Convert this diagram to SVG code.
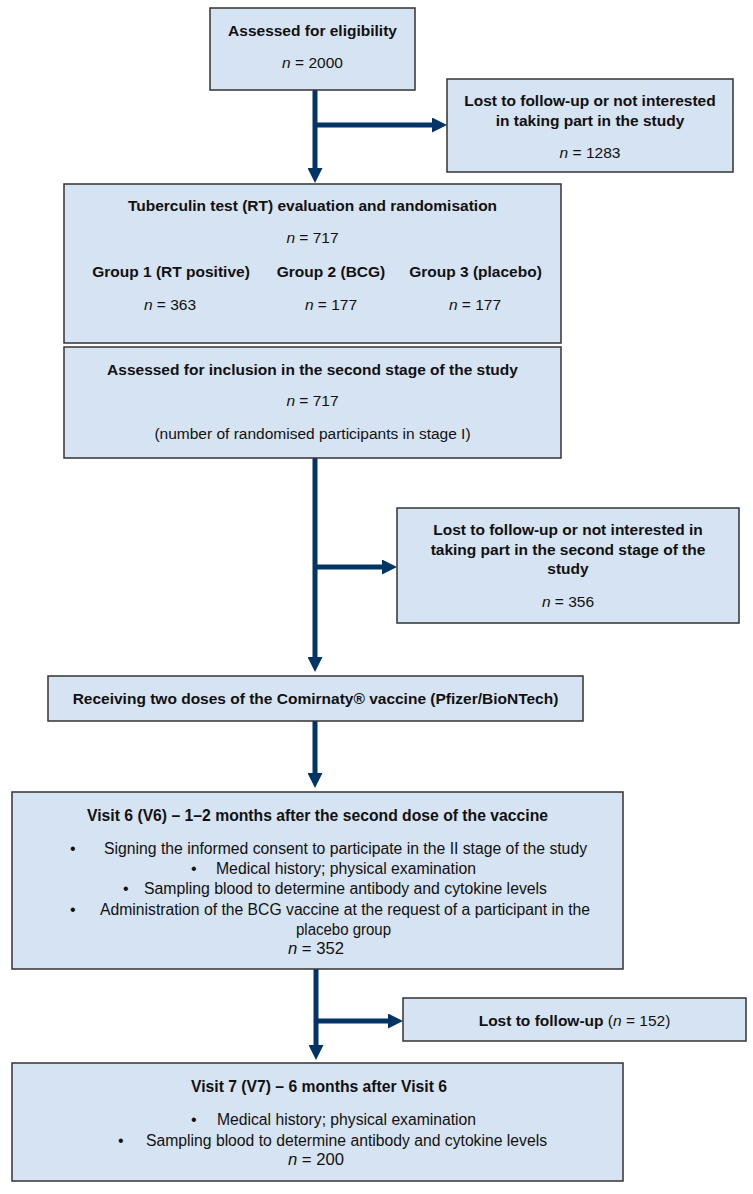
<svg xmlns="http://www.w3.org/2000/svg" width="753" height="1194" viewBox="0 0 753 1194">
<style>
.box{fill:#d6e3f2;stroke:#333;stroke-width:1.5}
text{font-family:"Liberation Sans",Arial,sans-serif;font-size:15.5px;fill:#111;text-anchor:middle}
.b{font-weight:bold}
.i{font-style:italic}
.nar{font-size:16px;text-anchor:start}
.con{stroke:#033466;stroke-width:5;fill:none}
</style>
<defs>
<marker id="ah" markerUnits="userSpaceOnUse" viewBox="0 0 15 15" refX="3" refY="7.5" markerWidth="15" markerHeight="15" orient="auto">
<path d="M0,0 L15,7.5 L0,15 Z" fill="#033466"/>
</marker>
</defs>
<rect width="753" height="1194" fill="#fff"/>
<g id="connectors">
<path class="con" d="M315,90 V171" marker-end="url(#ah)"/>
<path class="con" d="M315,125 H435" marker-end="url(#ah)"/>
<path class="con" d="M315,458 V660" marker-end="url(#ah)"/>
<path class="con" d="M315,567 H385" marker-end="url(#ah)"/>
<path class="con" d="M315,721 V776" marker-end="url(#ah)"/>
<path class="con" d="M316,969 V1048" marker-end="url(#ah)"/>
<path class="con" d="M316,1021 H391" marker-end="url(#ah)"/>
</g>
<g id="eligibility">
<rect class="box" x="210" y="8" width="205" height="82"/>
<text class="b" x="312.5" y="35.5">Assessed for eligibility</text>
<text x="312.5" y="67.5"><tspan class="i">n</tspan> = 2000</text>
</g>
<g id="lost1">
<rect class="box" x="447" y="79" width="286" height="93"/>
<text class="b" x="590" y="105.5">Lost to follow-up or not interested</text>
<text class="b" x="590" y="125.5">in taking part in the study</text>
<text x="590" y="157.5"><tspan class="i">n</tspan> = 1283</text>
</g>
<g id="randomisation">
<rect class="box" x="64" y="184" width="497" height="159"/>
<text class="b" x="312.5" y="210.5">Tuberculin test (RT) evaluation and randomisation</text>
<text x="312.5" y="242.5"><tspan class="i">n</tspan> = 717</text>
<text class="b" x="171" y="276.5">Group 1 (RT positive)</text>
<text class="b" x="331" y="276.5">Group 2 (BCG)</text>
<text class="b" x="475.5" y="276.5">Group 3 (placebo)</text>
<text x="170" y="309.5"><tspan class="i">n</tspan> = 363</text>
<text x="331" y="309.5"><tspan class="i">n</tspan> = 177</text>
<text x="475" y="309.5"><tspan class="i">n</tspan> = 177</text>
</g>
<g id="stage2">
<rect class="box" x="64" y="347" width="497" height="111"/>
<text class="b" x="312.5" y="374.5">Assessed for inclusion in the second stage of the study</text>
<text x="312.5" y="405.5"><tspan class="i">n</tspan> = 717</text>
<text x="312.5" y="438.5">(number of randomised participants in stage I)</text>
</g>
<g id="lost2">
<rect class="box" x="397" y="508" width="342" height="115"/>
<text class="b" x="568" y="534.5">Lost to follow-up or not interested in</text>
<text class="b" x="568" y="554.5">taking part in the second stage of the</text>
<text class="b" x="568" y="573.5">study</text>
<text x="568" y="606.5"><tspan class="i">n</tspan> = 356</text>
</g>
<g id="vaccine">
<rect class="box" x="48" y="676" width="535" height="45"/>
<text class="b" x="315.5" y="703.5">Receiving two doses of the Comirnaty® vaccine (Pfizer/BioNTech)</text>
</g>
<g id="visit6">
<rect class="box" x="12" y="792" width="611" height="177"/>
<text class="b nar" x="87" y="820.5" textLength="461" lengthAdjust="spacingAndGlyphs">Visit 6 (V6) – 1–2 months after the second dose of the vaccine</text>
<text class="nar" x="70" y="853.5">•</text>
<text class="nar" x="104" y="853.5" textLength="483" lengthAdjust="spacingAndGlyphs">Signing the informed consent to participate in the II stage of the study</text>
<text class="nar" x="191" y="873.5">•</text>
<text class="nar" x="216" y="873.5" textLength="260" lengthAdjust="spacingAndGlyphs">Medical history; physical examination</text>
<text class="nar" x="123" y="893.5">•</text>
<text class="nar" x="144" y="893.5" textLength="403" lengthAdjust="spacingAndGlyphs">Sampling blood to determine antibody and cytokine levels</text>
<text class="nar" x="70" y="914.5">•</text>
<text class="nar" x="100" y="914.5" textLength="490" lengthAdjust="spacingAndGlyphs">Administration of the BCG vaccine at the request of a participant in the</text>
<text class="nar" x="296" y="934.5" textLength="95" lengthAdjust="spacingAndGlyphs">placebo group</text>
<text class="nar" x="288" y="953.5" textLength="56" lengthAdjust="spacingAndGlyphs"><tspan class="i">n</tspan> = 352</text>
</g>
<g id="lost3">
<rect class="box" x="403" y="998" width="343" height="43"/>
<text x="574.5" y="1025.5"><tspan class="b">Lost to follow-up</tspan> (<tspan class="i">n</tspan> = 152)</text>
</g>
<g id="visit7">
<rect class="box" x="12" y="1063" width="611" height="118"/>
<text class="b nar" x="191" y="1091.5" textLength="256" lengthAdjust="spacingAndGlyphs">Visit 7 (V7) – 6 months after Visit 6</text>
<text class="nar" x="191" y="1124.5">•</text>
<text class="nar" x="217" y="1124.5" textLength="259" lengthAdjust="spacingAndGlyphs">Medical history; physical examination</text>
<text class="nar" x="118" y="1145.5">•</text>
<text class="nar" x="146" y="1145.5" textLength="401" lengthAdjust="spacingAndGlyphs">Sampling blood to determine antibody and cytokine levels</text>
<text class="nar" x="288" y="1164.5" textLength="56" lengthAdjust="spacingAndGlyphs"><tspan class="i">n</tspan> = 200</text>
</g>
</svg>
